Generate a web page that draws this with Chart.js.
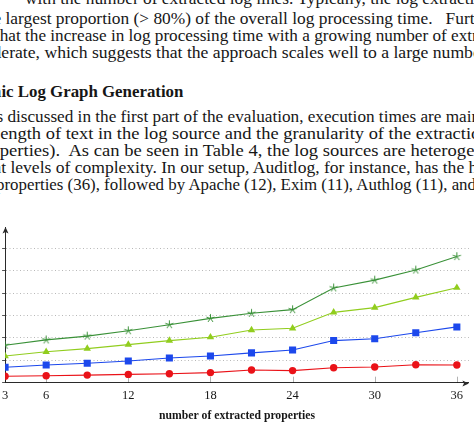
<!DOCTYPE html>
<html><head><meta charset="utf-8">
<script src="https://cdn.jsdelivr.net/npm/chart.js@4.4.1/dist/chart.umd.min.js"></script>
<style>
html,body{margin:0;padding:0;background:#fff;width:474px;height:430px;overflow:hidden;position:relative;}
.ln{position:absolute;white-space:pre;font-family:"Liberation Serif",serif;color:#161616;transform-origin:0 0;font-kerning:normal;}
#wrap{position:absolute;left:0;top:215px;width:474px;height:215px;}
</style></head><body>
<div id="text"></div>
<div id="wrap"><canvas id="c" width="474" height="215"></canvas></div>
<script>
// ---- data ----
const xValues = [3, 6, 9, 12, 15, 18, 21, 24, 27, 30, 33, 36];
const xTickValues = [3, 6, 12, 18, 24, 30, 36];
const yGridValues = [0, 10, 20, 30, 40, 50, 60];
const starSeries = [16.7, 19.1, 20.8, 23.2, 25.9, 28.7, 31.0, 32.6, 42.3, 45.8, 50.3, 56.3];
const triangleSeries = [11.9, 13.8, 15.2, 17.0, 18.8, 20.3, 23.5, 24.3, 31.4, 33.5, 38.1, 42.4];
const squareSeries = [6.9, 7.9, 8.7, 9.7, 11.0, 11.9, 13.3, 14.6, 18.8, 19.6, 22.3, 24.9];
const circleSeries = [2.9, 3.1, 3.4, 3.7, 4.0, 4.5, 5.7, 5.4, 6.7, 7.0, 8.0, 7.9];
const xAxisTitle = 'number of extracted properties';

// ---- surrounding page text: pre (cut off at left), anc (anchor span x0..x1), rest ----
const textLines = [
  {pre:'', anc:'with the number of extracted log lines.', rest:' Typically, the log extraction', x0:25, x1:null, bl:4, fs:16},
  {pre:'the ', anc:'largest proportion (> 80%) of the overall log processing time.', rest:'   Further,', x0:6, x1:433, bl:24, fs:16},
  {pre:'t', anc:'hat the increase in log processing time with a growing number of', rest:' extracted', x0:0, x1:447, bl:41.5, fs:16},
  {pre:'mod', anc:'erate, which suggests that the approach scales well to a large', rest:' number', x0:1, x1:428, bl:58.3, fs:16},
  {pre:'Dynam', anc:'ic Log Graph Generation', rest:'', x0:1, x1:183, bl:96.5, fs:17.5, bold:true},
  {pre:'As ', anc:'discussed in the first part of the evaluation, execution times are', rest:' mainly', x0:7, x1:441, bl:122.3, fs:16},
  {pre:'l', anc:'ength of text in the log source and the granularity of the', rest:' extraction', x0:0, x1:411, bl:139.3, fs:16},
  {pre:'pro', anc:'perties).  As can be seen in Table 4, the log sources are', rest:' heterogeneous', x0:0, x1:406, bl:156.5, fs:16},
  {pre:'differen', anc:'t levels of complexity. In our setup, Auditlog, for instance, has the', rest:' highest', x0:1, x1:464, bl:173.3, fs:16},
  {pre:'p', anc:'roperties (36), followed by Apache (12), Exim (11), Authlog (11),', rest:' and', x0:4, x1:447, bl:190, fs:16}
];

const holder = document.getElementById('text');
const built = textLines.map(L => {
  const d = document.createElement('div');
  d.className = 'ln';
  d.style.fontSize = L.fs + 'px';
  if (L.bold) d.style.fontWeight = 'bold';
  const sp = t => { const s = document.createElement('span'); s.textContent = t; d.appendChild(s); return s; };
  const a = sp(L.pre), b = sp(L.anc); sp(L.rest);
  holder.appendChild(d);
  return {L, d, a, b};
});
const ks = built.filter(o => o.L.x1 !== null).map(o => (o.L.x1 - o.L.x0) / o.b.getBoundingClientRect().width);
const kAvg = ks.reduce((p,q)=>p+q,0) / ks.length;
built.forEach(o => {
  const L = o.L;
  const k = L.x1 !== null ? (L.x1 - L.x0) / o.b.getBoundingClientRect().width : kAvg;
  const preW = o.a.getBoundingClientRect().width;
  o.d.style.top = (L.bl - 0.891 * L.fs) + 'px';
  o.d.style.left = (L.x0 - k * preW) + 'px';
  o.d.style.transform = 'scaleX(' + k + ')';
});

// ---- chart ----
const mctx = document.createElement('canvas').getContext('2d');
function mw(t, fs, bold){ mctx.font = (bold?'bold ':'') + fs + 'px "Liberation Serif"'; return mctx.measureText(t).width; }
function starImage(color){
  const c = document.createElement('canvas'); c.width = 11; c.height = 11;
  const g = c.getContext('2d'); g.strokeStyle = color; g.lineWidth = 1;
  for (let i = 0; i < 5; i++) {
    const a = -Math.PI/2 + i * 2*Math.PI/5;
    g.beginPath(); g.moveTo(5.5, 5.5); g.lineTo(5.5 + 4.3*Math.cos(a), 5.5 + 4.3*Math.sin(a)); g.stroke();
  }
  return c;
}
const cRed = 'rgb(234,18,24)', cBlue = 'rgb(28,72,236)', cLight = 'rgb(145,205,30)', cDark = 'rgb(58,145,56)';
const pts = arr => xValues.map((x,i)=>({x:x, y:arr[i]}));

const titleFs = 156 / mw(xAxisTitle, 100, true) * 100;
const titleLH = titleFs * 1.2;

const axisDecor = {
  id:'axisDecor',
  beforeDatasetsDraw(chart){
    const {ctx, chartArea:a, scales:{x}} = chart;
    ctx.save(); ctx.strokeStyle = 'rgba(0,0,0,0.3)'; ctx.lineWidth = 1;
    xTickValues.forEach(v => { const px = Math.round(x.getPixelForValue(v)) + 0.5;
      ctx.beginPath(); ctx.moveTo(px, a.bottom); ctx.lineTo(px, a.bottom - 6); ctx.stroke(); });
    ctx.restore();
  },
  afterDraw(chart){
    const {ctx, chartArea:a} = chart;
    ctx.save(); ctx.fillStyle = '#2a2a2a';
    const yb = Math.round(a.bottom) + 0.5, xl = Math.round(a.left) + 0.5;
    ctx.beginPath(); ctx.moveTo(a.right, yb); ctx.lineTo(a.right - 6.5, yb - 3); ctx.lineTo(a.right - 5, yb); ctx.lineTo(a.right - 6.5, yb + 3); ctx.closePath(); ctx.fill();
    ctx.beginPath(); ctx.moveTo(xl, a.top); ctx.lineTo(xl - 3, a.top + 6.5); ctx.lineTo(xl, a.top + 5); ctx.lineTo(xl + 3, a.top + 6.5); ctx.closePath(); ctx.fill();
    ctx.restore();
  }
};

new Chart(document.getElementById('c'), {
  type:'line',
  data:{ datasets:[
    {label:'series A', data:pts(circleSeries), borderColor:cRed, backgroundColor:cRed, pointStyle:'circle', pointRadius:3.7, borderWidth:1.1, pointBorderWidth:0},
    {label:'series B', data:pts(squareSeries), borderColor:cBlue, backgroundColor:cBlue, pointStyle:'rect', pointRadius:5, borderWidth:1.1, pointBorderWidth:0},
    {label:'series C', data:pts(triangleSeries), borderColor:cLight, backgroundColor:cLight, pointStyle:'triangle', pointRadius:4.3, borderWidth:1.1, pointBorderWidth:0},
    {label:'series D', data:pts(starSeries), borderColor:cDark, backgroundColor:cDark, pointStyle:starImage(cDark), pointRadius:4, borderWidth:1.1}
  ]},
  options:{
    responsive:false, animation:false, devicePixelRatio:1,
    layout:{padding:{top:12, right:1, left:0, bottom:0}},
    plugins:{legend:{display:false}, tooltip:{enabled:false}},
    elements:{line:{tension:0}},
    scales:{
      x:{type:'linear', min:3, max:36.88,
        afterBuildTicks:s=>{ s.ticks = xTickValues.map(v=>({value:v})); },
        afterFit:s=>{ s.height = 215 - 167.7; s.paddingLeft = 0; s.paddingRight = 0; },
        grid:{display:true, drawOnChartArea:false, drawTicks:false},
        border:{display:true, color:'#2a2a2a', width:1},
        ticks:{autoSkip:false, maxRotation:0, padding:6, color:'#161616', font:{family:'"Liberation Serif"', size:12.5}},
        title:{display:true, text:xAxisTitle, color:'#161616', font:{family:'"Liberation Serif"', size:titleFs, weight:'bold', lineHeight:1.2}, padding:{top:0, bottom:215 - 200.7 - titleLH/2}}
      },
      y:{type:'linear', min:0, max:69.5,
        afterBuildTicks:s=>{ s.ticks = yGridValues.map(v=>({value:v})); },
        afterFit:s=>{ s.width = 3; s.paddingTop = 0; s.paddingBottom = 0; },
        ticks:{display:false},
        grid:{display:true, drawTicks:true, tickLength:3, color:c=>c.tick && c.tick.value===0 ? 'rgba(0,0,0,0)' : 'rgba(0,0,0,0.28)', tickColor:'#555', lineWidth:1},
        border:{display:true, color:'#2a2a2a', width:1, dash:[1,2.5]}
      }
    }
  },
  plugins:[axisDecor]
});
</script>
</body></html>
